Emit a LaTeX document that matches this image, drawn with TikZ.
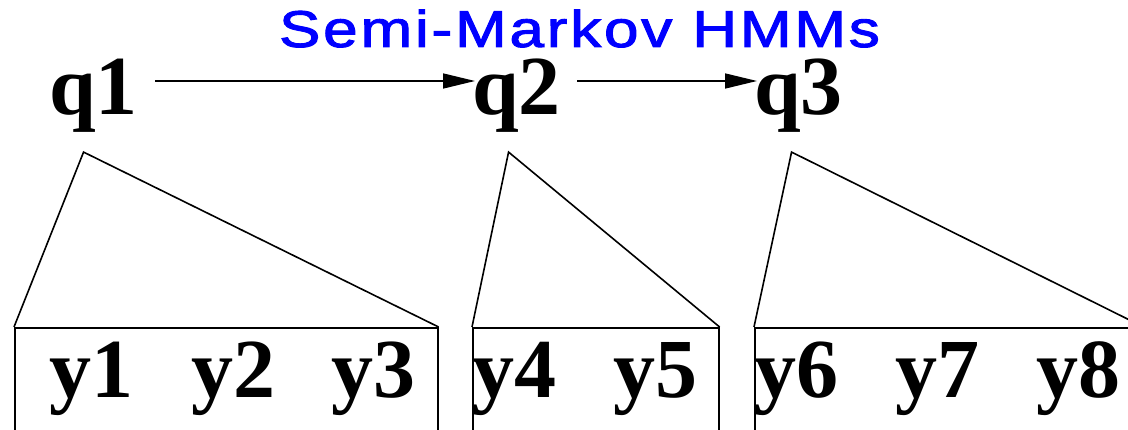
\documentclass[tikz,border=0pt]{standalone}
\usepackage{graphicx}
\usepackage{fontspec}
\setmainfont{Liberation Serif}
\newfontfamily\titlefont[LetterSpace=4.5,FakeBold=1.8]{Liberation Sans}
\usetikzlibrary{arrows.meta}

\begin{document}
\begin{tikzpicture}[x=1pt,y=-1pt,
  lbl/.style={font=\fontsize{84}{90}\selectfont\bfseries,inner sep=0pt,anchor=base west},
  segbox/.style={draw,line width=1.6pt,anchor=north west,inner sep=0pt,minimum height=140pt},
  trans/.style={line width=1.6pt,-{Triangle[length=32pt,width=15pt]}},
  tri/.style={line width=1.6pt,line join=miter}]
\clip (0,0) rectangle (1128,430);
\node[font=\titlefont\fontsize{51.7}{60}\selectfont,text=blue,anchor=base,inner sep=0pt] (title) at (579.5,47) {\scalebox{1.2}[1]{Semi-Markov HMMs}};
% hidden states
\node[lbl] (q1) at (49,115) {q1};
\node[lbl] (q2) at (472,115) {q2};
\node[lbl] (q3) at (754,115) {q3};
\draw[trans,shorten <=17pt,shorten >=-3pt] ([yshift=34pt]q1.base east) -- ([yshift=34pt]q2.base west);
\draw[trans,shorten <=16pt,shorten >=-3pt] ([yshift=34pt]q2.base east) -- ([yshift=34pt]q3.base west);
% segments
\node[segbox,minimum width=423pt] (b1) at (14,327) {};
\node[segbox,minimum width=246pt] (b2) at (472,327) {};
\node[segbox,minimum width=388pt] (b3) at (754,327) {};
\foreach \i/\dx in {1/-10,2/-8,3/-7} {
  \draw[tri] (b\i.north west) -- ([xshift=\dx pt,yshift=-19pt]q\i.south) -- (b\i.north east);
}
% observations
\foreach \n/\x in {1/49,2/191,3/331,4/472,5/613,6/754,7/895,8/1036} {
  \node[lbl] (y\n) at (\x,398) {y\n};
}
\end{tikzpicture}
\end{document}
